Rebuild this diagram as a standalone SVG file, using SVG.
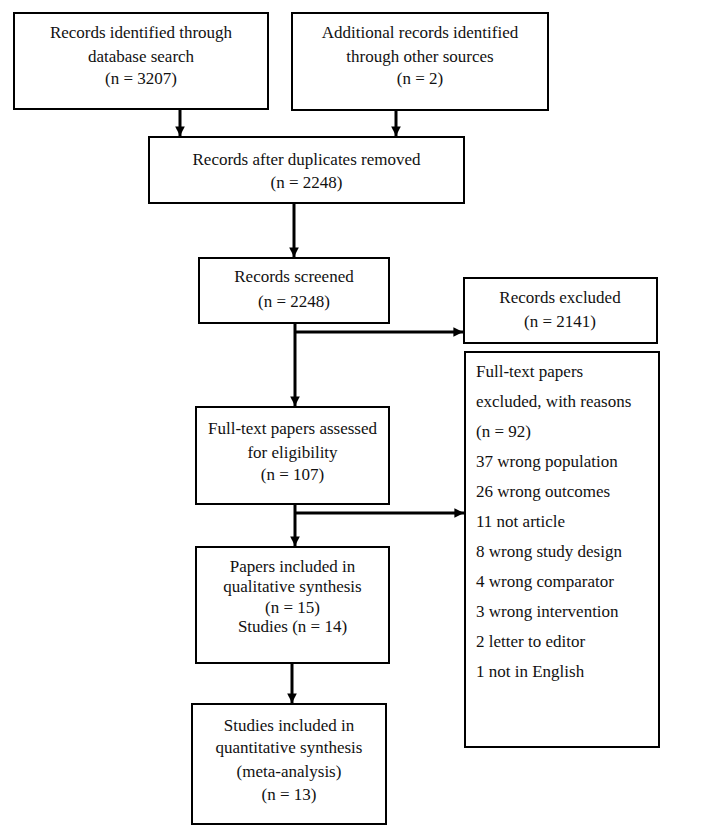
<svg xmlns="http://www.w3.org/2000/svg" width="708" height="839" viewBox="0 0 708 839">
<style>
.box{fill:#fff;stroke:#000;stroke-width:2}
.c{text-anchor:middle}
.conn{stroke:#000;stroke-width:3;fill:none}
</style>
<defs>
<marker id="ah" viewBox="0 0 10 10" refX="10" refY="5" markerWidth="3.2" markerHeight="3.2" orient="auto" markerUnits="strokeWidth">
<path d="M0,0 L10,5 L0,10 Z" fill="#000"/>
</marker>
</defs>
<rect width="708" height="839" fill="#fff"/>
<g id="connectors">
<line class="conn" x1="180" y1="109" x2="180" y2="136" marker-end="url(#ah)"/>
<line class="conn" x1="396" y1="110" x2="396" y2="136" marker-end="url(#ah)"/>
<line class="conn" x1="294" y1="203" x2="294" y2="257" marker-end="url(#ah)"/>
<line class="conn" x1="295" y1="323" x2="295" y2="406" marker-end="url(#ah)"/>
<line class="conn" x1="295" y1="332" x2="463" y2="332" marker-end="url(#ah)"/>
<line class="conn" x1="295" y1="504" x2="295" y2="546" marker-end="url(#ah)"/>
<line class="conn" x1="295" y1="513" x2="464" y2="513" marker-end="url(#ah)"/>
<line class="conn" x1="292" y1="663" x2="292" y2="703" marker-end="url(#ah)"/>
</g>
<g font-family="Liberation Serif, Times New Roman, serif" font-size="17" fill="#111">
<g id="n1">
<rect class="box" x="14" y="13" width="254" height="96"/>
<text class="c" x="141" y="38">Records identified through</text>
<text class="c" x="141" y="62">database search</text>
<text class="c" x="141" y="84">(n = 3207)</text>
</g>
<g id="n2">
<rect class="box" x="292" y="13" width="256" height="97"/>
<text class="c" x="420" y="38">Additional records identified</text>
<text class="c" x="420" y="62">through other sources</text>
<text class="c" x="420" y="84">(n = 2)</text>
</g>
<g id="n3">
<rect class="box" x="149" y="137" width="315" height="66"/>
<text class="c" x="306.5" y="165">Records after duplicates removed</text>
<text class="c" x="306.5" y="188">(n = 2248)</text>
</g>
<g id="n4">
<rect class="box" x="199" y="258" width="190" height="65"/>
<text class="c" x="294" y="282">Records screened</text>
<text class="c" x="294" y="307">(n = 2248)</text>
</g>
<g id="n5">
<rect class="box" x="464" y="278" width="193" height="65"/>
<text class="c" x="560" y="303">Records excluded</text>
<text class="c" x="560" y="327">(n = 2141)</text>
</g>
<g id="n6">
<rect class="box" x="196" y="407" width="193" height="97"/>
<text class="c" x="292.5" y="434">Full-text papers assessed</text>
<text class="c" x="292.5" y="458">for eligibility</text>
<text class="c" x="292.5" y="480">(n = 107)</text>
</g>
<g id="n7">
<rect class="box" x="465" y="352" width="194" height="395"/>
<text x="476" y="377">Full-text papers</text>
<text x="476" y="407">excluded, with reasons</text>
<text x="476" y="437">(n = 92)</text>
<text x="476" y="467">37 wrong population</text>
<text x="476" y="497">26 wrong outcomes</text>
<text x="476" y="527">11 not article</text>
<text x="476" y="557">8 wrong study design</text>
<text x="476" y="587">4 wrong comparator</text>
<text x="476" y="617">3 wrong intervention</text>
<text x="476" y="647">2 letter to editor</text>
<text x="476" y="677">1 not in English</text>
</g>
<g id="n8">
<rect class="box" x="196" y="547" width="193" height="116"/>
<text class="c" x="292.5" y="572">Papers included in</text>
<text class="c" x="292.5" y="592">qualitative synthesis</text>
<text class="c" x="292.5" y="613">(n = 15)</text>
<text class="c" x="292.5" y="632">Studies (n = 14)</text>
</g>
<g id="n9">
<rect class="box" x="192" y="704" width="194" height="120"/>
<text class="c" x="289" y="731">Studies included in</text>
<text class="c" x="289" y="753">quantitative synthesis</text>
<text class="c" x="289" y="777">(meta-analysis)</text>
<text class="c" x="289" y="800">(n = 13)</text>
</g>
</g>
</svg>
